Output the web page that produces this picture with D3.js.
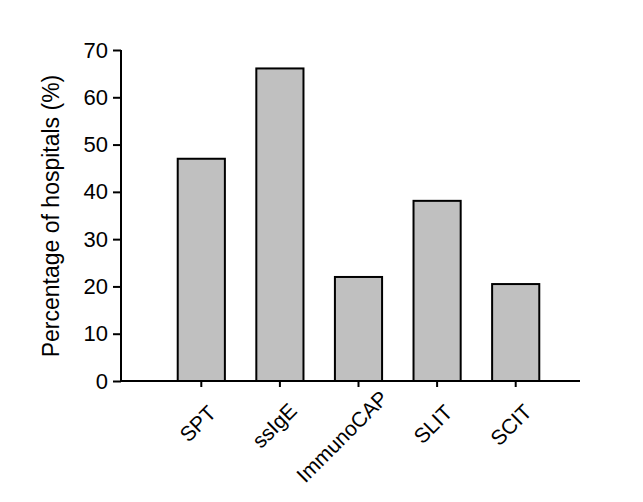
<!DOCTYPE html>
<html><head><meta charset="utf-8">
<script src="https://cdn.jsdelivr.net/npm/d3@7"></script>
<style>body{margin:0;background:#fff}text{font-family:"Liberation Sans",Arial,sans-serif;fill:#000}</style>
</head><body><svg id="c" width="643" height="502"></svg>
<script>
const categories = ["SPT","ssIgE","ImmunoCAP","SLIT","SCIT"];
const values = [47.0, 66.1, 22.0, 38.1, 20.5];
const yTicks = [0,10,20,30,40,50,60,70];

const svg = d3.select("#c");
const y = d3.scaleLinear().domain([0,70]).range([381,50]);
const x = d3.scaleBand().domain(categories).range([162,555]).paddingInner(0.4).paddingOuter(0.2);

svg.selectAll("rect.bar").data(categories).enter().append("rect")
  .attr("x", d => x(d)).attr("width", x.bandwidth())
  .attr("y", (d,i) => y(values[i])).attr("height", (d,i) => y(0)-y(values[i]))
  .attr("fill","#c0c0c0").attr("stroke","#000").attr("stroke-width",2);

const ya = svg.append("g").attr("transform","translate(121,0)")
  .call(d3.axisLeft(y).tickValues(yTicks).tickSize(8).tickPadding(5));
ya.attr("font-size",null).attr("font-family",null);
ya.select(".domain").attr("stroke-width",2).attr("d","M0,50V382");
ya.selectAll(".tick line").attr("stroke-width",2);
ya.selectAll(".tick text").style("font-size","22px");

const xa = svg.append("g").attr("transform","translate(0,381)")
  .call(d3.axisBottom(x).tickSize(6).tickSizeOuter(0));
xa.attr("font-size",null).attr("font-family",null);
xa.select(".domain").attr("stroke-width",2).attr("d","M120,0H580");
xa.selectAll(".tick line").attr("stroke-width",2);
xa.selectAll(".tick text").style("font-size","21px")
  .attr("text-anchor","start").attr("dy","0.35em").attr("y",0)
  .attr("transform","translate(3,36) rotate(-45)")
  .each(function(){ const L = this.getComputedTextLength(); d3.select(this).attr("x", -0.73*L); });

svg.append("text").attr("transform","translate(59,216) rotate(-90)")
  .attr("text-anchor","middle").style("font-size","23px")
  .text("Percentage of hospitals (%)");
</script></body></html>
